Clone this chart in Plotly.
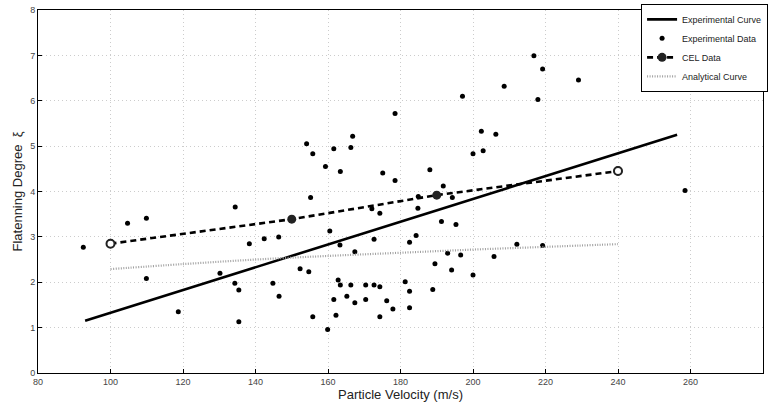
import plotly.graph_objects as go

# Experimental data (scatter points)
exp_x = [92.5, 104.7, 109.9, 109.9, 118.7, 130.2, 134.4, 134.3, 135.4, 135.4, 138.3, 142.4,
         144.8, 146.5, 146.4, 152.3, 154.7, 154.1, 155.8, 155.2, 155.8, 160.5, 161.6, 159.3,
         163.4, 163.3, 162.8, 163.4, 166.3, 166.8, 166.3, 167.4, 165.2, 161.6, 162.2, 159.9,
         167.4, 170.4, 170.4, 172.7, 172.1, 172.7, 174.3, 174.3, 175.1, 176.2, 177.9, 178.5,
         178.5, 174.3, 181.3, 182.5, 182.5, 182.5, 184.3, 184.8, 184.9, 188.1, 188.9, 189.5,
         191.3, 191.8, 193.0, 194.1, 194.3, 195.3, 196.6, 197.1, 200.0, 200.0, 202.3, 202.8,
         205.8, 206.3, 208.6, 212.1, 216.8, 217.9, 219.2, 219.2, 229.1, 258.5]
exp_y = [2.77, 3.30, 3.41, 2.08, 1.35, 2.20, 3.66, 1.98, 1.83, 1.13, 2.85, 2.96,
         1.98, 1.69, 3.00, 2.30, 2.23, 5.05, 4.83, 3.87, 1.24, 3.13, 4.94, 4.55,
         4.44, 2.82, 2.05, 1.94, 1.94, 5.22, 4.97, 2.67, 1.69, 1.62, 1.27, 0.96,
         1.55, 1.94, 1.62, 1.94, 3.62, 2.95, 1.90, 3.52, 4.41, 1.59, 1.41, 4.24,
         5.72, 1.24, 2.01, 1.80, 1.44, 2.88, 3.03, 3.63, 3.89, 4.48, 1.84, 2.41,
         3.34, 4.12, 2.64, 2.27, 3.87, 3.27, 2.60, 6.10, 4.83, 2.16, 5.33, 4.90,
         2.57, 5.26, 6.32, 2.84, 6.99, 6.03, 6.70, 2.81, 6.46, 4.02]

# Experimental curve (fitted line endpoints)
curve_x = [93.0, 256.3]
curve_y = [1.15, 5.25]

# CEL data
cel_x = [100, 150, 190, 240]
cel_y = [2.85, 3.39, 3.92, 4.45]

# Analytical curve
ana_x = [100, 120, 140, 160, 180, 200, 220, 240]
ana_y = [2.29, 2.40, 2.50, 2.58, 2.65, 2.72, 2.78, 2.84]

x_ticks = [80, 100, 120, 140, 160, 180, 200, 220, 240, 260, 280]
y_ticks = [0, 1, 2, 3, 4, 5, 6, 7, 8]

fig = go.Figure()

fig.add_trace(go.Scatter(x=curve_x, y=curve_y, mode="lines", name="Experimental Curve",
                         line=dict(color="black", width=2.6)))
fig.add_trace(go.Scatter(x=exp_x, y=exp_y, mode="markers", name="Experimental Data",
                         marker=dict(color="black", size=5)))
fig.add_trace(go.Scatter(x=cel_x, y=cel_y, mode="lines+markers", name="CEL Data",
                         line=dict(color="black", width=2.6, dash="6px,4px"),
                         marker=dict(color="#222", size=9)))
fig.add_trace(go.Scatter(x=[cel_x[0], cel_x[-1]], y=[cel_y[0], cel_y[-1]], mode="markers",
                         showlegend=False,
                         marker=dict(color="white", size=8, line=dict(color="#222", width=2))))
fig.add_trace(go.Scatter(x=ana_x, y=ana_y, mode="lines", name="Analytical Curve",
                         line=dict(color="#a0a0a0", width=2.2, dash="1px,1.5px"), line_shape="spline"))

axis_common = dict(showline=True, linecolor="black", linewidth=1, mirror=True,
                   ticks="inside", ticklen=4, tickcolor="black",
                   showgrid=True, gridcolor="#cccccc", griddash="1px,3px", gridwidth=1,
                   zeroline=False, automargin=False,
                   tickfont=dict(size=9, color="#444444",
                                 family="Liberation Sans, Arial, sans-serif"))

fig.update_xaxes(range=[80, 280], tickvals=x_ticks, ticktext=[str(t) for t in x_ticks],
                 title=dict(text="Particle Velocity (m/s)", font=dict(size=13, color="#222"),
                            standoff=2),
                 **axis_common)
fig.update_yaxes(range=[0, 8], tickvals=y_ticks, ticktext=[str(t) for t in y_ticks],
                 title=dict(text="Flatenning Degree  ξ", font=dict(size=13, color="#222"),
                            standoff=4),
                 **axis_common)

fig.update_layout(
    width=769, height=405,
    margin=dict(l=38, r=6, t=10, b=32, autoexpand=False),
    paper_bgcolor="white", plot_bgcolor="white",
    font=dict(family="Liberation Sans, Arial, sans-serif", color="#222"),
    legend=dict(x=1.007, y=1.017, xanchor="right", yanchor="top",
                bgcolor="white", bordercolor="black", borderwidth=1,
                font=dict(size=9, color="#222"), tracegroupgap=0,
                itemwidth=30),
    showlegend=True,
)

fig.write_html("out.html", config={"displayModeBar": False},
               post_script="document.body.style.margin='0';document.body.style.padding='0';")
